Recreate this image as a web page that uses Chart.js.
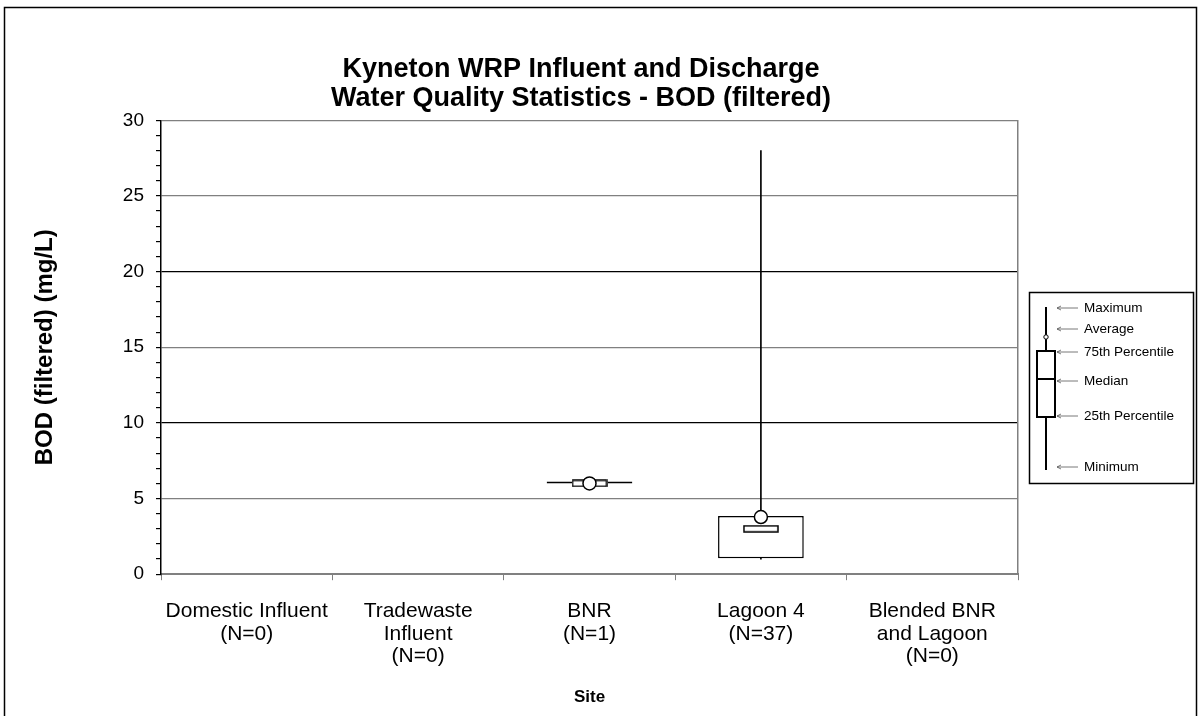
<!DOCTYPE html>
<html>
<head>
<meta charset="utf-8">
<script src="https://cdn.jsdelivr.net/npm/chart.js@4.4.1/dist/chart.umd.min.js"></script>
<style>
  html, body { margin: 0; padding: 0; background: #fff; }
</style>
</head>
<body>
<canvas id="chart" width="1200" height="716"></canvas>
<script>
// data
const sites = [
  ['Domestic Influent', '(N=0)'],
  ['Tradewaste', 'Influent', '(N=0)'],
  ['BNR', '(N=1)'],
  ['Lagoon 4', '(N=37)'],
  ['Blended BNR', 'and Lagoon', '(N=0)']
];
const minimum = [null, null, 6, 1.0, null];
const pct25   = [null, null, 6, 1.05, null];
const median  = [null, null, 6, 3.0, null];
const pct75   = [null, null, 6, 3.85, null];
const average = [null, null, 6, 3.78, null];
const maximum = [null, null, 6, 28, null];
const yTicks  = [0, 5, 10, 15, 20, 25, 30];

const FONT = 'Liberation Sans, Arial, sans-serif';

// median marker: small outlined bar
const medMark = document.createElement('canvas');
medMark.width = 36; medMark.height = 8;
const mc = medMark.getContext('2d');
mc.fillStyle = '#fff'; mc.fillRect(0, 0, 36, 8);
mc.strokeStyle = '#000'; mc.lineWidth = 1.5; mc.strokeRect(1, 1, 34, 6);

const boxData = pct25.map((v, i) => v == null ? null : [v, pct75[i]]);
const upperWhisker = pct75.map((v, i) => v == null ? null : [v, maximum[i]]);
const lowerWhisker = pct25.map((v, i) => v == null ? null : [minimum[i], v]);

// outer frame + key box on the right
const extras = {
  id: 'extras',
  beforeDraw(chart) {
    const c = chart.ctx;
    c.save();
    c.fillStyle = '#fff';
    c.fillRect(0, 0, chart.width, chart.height);
    c.strokeStyle = '#000';
    c.lineWidth = 1.5;
    c.strokeRect(4.5, 7.5, 1192, 740);
    c.restore();
  },
  afterDraw(chart) {
    const c = chart.ctx;
    c.save();
    c.strokeStyle = '#000';
    c.lineWidth = 1.5;
    c.strokeRect(1029.5, 292.5, 164, 191);
    // key glyph
    c.lineWidth = 2;
    c.beginPath(); c.moveTo(1046, 307); c.lineTo(1046, 470); c.stroke();
    c.fillStyle = '#fff';
    c.fillRect(1037, 351, 18, 66);
    c.strokeRect(1037, 351, 18, 66);
    c.beginPath(); c.moveTo(1037, 379); c.lineTo(1055, 379); c.stroke();
    c.lineWidth = 1;
    c.beginPath(); c.arc(1046, 337, 2.2, 0, Math.PI * 2); c.fill(); c.stroke();
    // arrows + labels
    const keys = [['Maximum', 308], ['Average', 329], ['75th Percentile', 352],
                  ['Median', 381], ['25th Percentile', 416], ['Minimum', 467]];
    c.font = '13.5px ' + FONT;
    c.textBaseline = 'middle';
    c.fillStyle = '#000';
    c.strokeStyle = '#555';
    c.lineWidth = 0.8;
    keys.forEach(([t, y]) => {
      c.beginPath();
      c.moveTo(1057, y); c.lineTo(1078, y);
      c.moveTo(1057, y); c.lineTo(1061, y - 2);
      c.moveTo(1057, y); c.lineTo(1061, y + 2);
      c.stroke();
      c.fillText(t, 1084, y);
    });
    c.restore();
  }
};

new Chart(document.getElementById('chart'), {
  type: 'bar',
  data: {
    labels: sites,
    datasets: [
      {
        type: 'line', label: 'Average', data: average, showLine: false,
        pointStyle: 'circle', pointRadius: 6.5, pointBackgroundColor: '#fff',
        pointBorderColor: '#000', pointBorderWidth: 1.5, order: 0
      },
      {
        type: 'line', label: 'Median', data: median, showLine: false,
        pointStyle: medMark, order: 1
      },
      {
        label: 'Upper whisker', data: upperWhisker, backgroundColor: '#000',
        barThickness: 1, grouped: false, order: 2
      },
      {
        label: 'Lower whisker', data: lowerWhisker, backgroundColor: '#000',
        barThickness: 1, grouped: false, order: 2
      },
      {
        label: 'Box', data: boxData, backgroundColor: '#fff', borderColor: '#000',
        borderWidth: 1.5, borderSkipped: false, barPercentage: 0.5,
        categoryPercentage: 1, minBarLength: 2, grouped: false, order: 3
      }
    ]
  },
  options: {
    responsive: false,
    animation: false,
    layout: { padding: { left: 0, right: 38, top: 0, bottom: 4 } },
    plugins: {
      legend: { display: false },
      tooltip: { enabled: false },
      title: {
        display: true,
        text: ['Kyneton WRP Influent and Discharge', 'Water Quality Statistics - BOD (filtered)'],
        color: '#000',
        font: { family: FONT, size: 27, weight: 'bold', lineHeight: 1.08 },
        padding: { top: 55, bottom: 7 }
      }
    },
    scales: {
      x: {
        grid: { drawOnChartArea: false, color: '#808080', tickLength: 6, offset: true },
        border: { color: '#808080', width: 2 },
        ticks: {
          color: '#000', font: { family: FONT, size: 21, lineHeight: 1.07 },
          maxRotation: 0, autoSkip: false, padding: 20
        },
        title: {
          display: true, text: 'Site', color: '#000',
          font: { family: FONT, size: 17, weight: 'bold' },
          padding: { top: 0, bottom: 4 }
        }
      },
      y: {
        min: 0, max: 30,
        ticks: {
          stepSize: 1, autoSkip: false, color: '#000', padding: 12,
          font: { family: FONT, size: 19 },
          callback: v => yTicks.includes(v) ? v : ''
        },
        grid: {
          color: ctx => {
            const v = ctx.tick.value;
            if (v === 0 || v % 5 !== 0) return 'rgba(0,0,0,0)';
            return (v === 10 || v === 20) ? '#000' : '#808080';
          },
          tickColor: '#000', tickLength: 5, lineWidth: 1.2
        },
        border: { color: '#000', width: 1.5 },
        title: {
          display: true, text: 'BOD (filtered) (mg/L)', color: '#000',
          font: { family: FONT, size: 24, weight: 'bold' },
          padding: { top: 31 }
        },
        afterFit: s => { s.width = 161; }
      },
      y2: {
        position: 'right', min: 0, max: 30,
        ticks: { display: false },
        grid: { drawOnChartArea: false, drawTicks: false },
        border: { color: '#808080', width: 1.5 },
        afterFit: s => { s.width = 144; }
      }
    }
  },
  plugins: [extras]
});
</script>
</body>
</html>
